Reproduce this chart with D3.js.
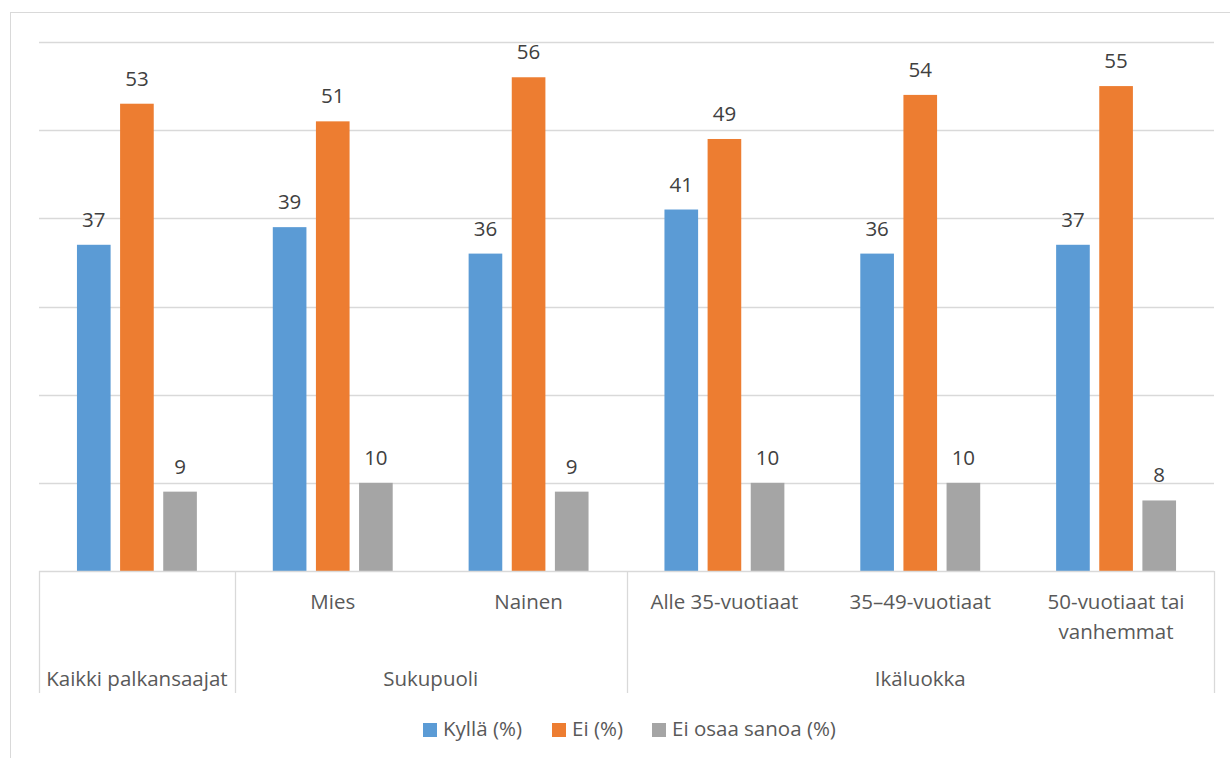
<!DOCTYPE html>
<html>
<head>
<meta charset="utf-8">
<script src="https://cdn.jsdelivr.net/npm/d3@7"></script>
<style>
  body { margin: 0; background: #fff; }
  text { font-family: "Open Sans", "Noto Sans", sans-serif; }
</style>
</head>
<body>
<svg id="chart" width="1230" height="758"></svg>
<script>
// data
const categories = ["Kaikki palkansaajat", "Mies", "Nainen", "Alle 35-vuotiaat", "35–49-vuotiaat", "50-vuotiaat tai vanhemmat"];
const groups = [
  { name: "", from: 0, to: 0 },
  { name: "Sukupuoli", from: 1, to: 2 },
  { name: "Ikäluokka", from: 3, to: 5 }
];
const seriesNames = ["Kyllä (%)", "Ei (%)", "Ei osaa sanoa (%)"];
const kylla = [37, 39, 36, 41, 36, 37];
const ei = [53, 51, 56, 49, 54, 55];
const eiOsaa = [9, 10, 9, 10, 10, 8];
const yTicks = [0, 10, 20, 30, 40, 50, 60];
const colors = ["#5b9bd5", "#ed7d31", "#a5a5a5"];

const series = [kylla, ei, eiOsaa];
const fontSize = 20.5;

const svg = d3.select("#chart");
const plotLeft = 39, plotRight = 1214, plotTop = 42, plotBottom = 571;

// kader rond de grafiek
svg.append("rect")
  .attr("x", 10.5).attr("y", 12.5)
  .attr("width", 1240).attr("height", 760)
  .attr("fill", "none").attr("stroke", "#d9d9d9");

const x = d3.scaleBand().domain(d3.range(categories.length)).range([plotLeft, plotRight]);
const xInner = d3.scaleBand().domain(d3.range(3)).range([0, x.bandwidth()]).paddingInner(0.22).paddingOuter(0.88);
const y = d3.scaleLinear().domain([0, 60]).range([plotBottom, plotTop]);

// gridlijnen
svg.append("g").selectAll("line").data(yTicks.slice(1)).join("line")
  .attr("x1", plotLeft).attr("x2", plotRight)
  .attr("y1", d => Math.round(y(d)) + 0.5).attr("y2", d => Math.round(y(d)) + 0.5)
  .attr("stroke", "#d9d9d9").attr("stroke-width", 1.3);

// bars
const cat = svg.append("g").selectAll("g").data(categories).join("g")
  .attr("transform", (d, i) => `translate(${x(i)},0)`);

series.forEach((s, si) => {
  cat.append("rect")
    .attr("x", xInner(si))
    .attr("width", xInner.bandwidth())
    .attr("y", (d, i) => y(s[i]))
    .attr("height", (d, i) => plotBottom - y(s[i]))
    .attr("fill", colors[si]);
  cat.append("text")
    .attr("x", xInner(si) + xInner.bandwidth() / 2)
    .attr("y", (d, i) => y(s[i]) - 18)
    .attr("text-anchor", "middle")
    .attr("font-size", fontSize)
    .attr("fill", "#404040")
    .text((d, i) => s[i]);
});

// as
svg.append("line")
  .attr("x1", plotLeft).attr("x2", plotRight)
  .attr("y1", plotBottom + 0.5).attr("y2", plotBottom + 0.5)
  .attr("stroke", "#d9d9d9").attr("stroke-width", 1.3);

// scheidingslijnen tussen groepen
const sepX = [plotLeft, x(1), x(3), plotRight];
svg.append("g").selectAll("line").data(sepX).join("line")
  .attr("x1", d => Math.round(d) + 0.5).attr("x2", d => Math.round(d) + 0.5)
  .attr("y1", plotBottom).attr("y2", 693)
  .attr("stroke", "#d9d9d9").attr("stroke-width", 1.3);

// categorie labels
const labelG = svg.append("g").attr("font-size", fontSize).attr("fill", "#595959").attr("text-anchor", "middle");
categories.forEach((c, i) => {
  const cx = x(i) + x.bandwidth() / 2;
  if (i === 0) {
    labelG.append("text").attr("x", cx).attr("y", 686).text(c);
  } else if (c === "50-vuotiaat tai vanhemmat") {
    labelG.append("text").attr("x", cx).attr("y", 609).text("50-vuotiaat tai");
    labelG.append("text").attr("x", cx).attr("y", 639).text("vanhemmat");
  } else {
    labelG.append("text").attr("x", cx).attr("y", 609).text(c);
  }
});
groups.filter(g => g.name).forEach(g => {
  const cx = (x(g.from) + x(g.to) + x.bandwidth()) / 2;
  labelG.append("text").attr("x", cx).attr("y", 686).text(g.name);
});

// legenda
const legendX = [423, 552, 652];
const legend = svg.append("g").selectAll("g").data(seriesNames).join("g")
  .attr("transform", (d, i) => `translate(${legendX[i]},723)`);
legend.append("rect").attr("width", 14).attr("height", 14).attr("fill", (d, i) => colors[i]);
legend.append("text").attr("x", 20).attr("y", 13).attr("font-size", fontSize).attr("fill", "#595959").text(d => d);
</script>
</body>
</html>
